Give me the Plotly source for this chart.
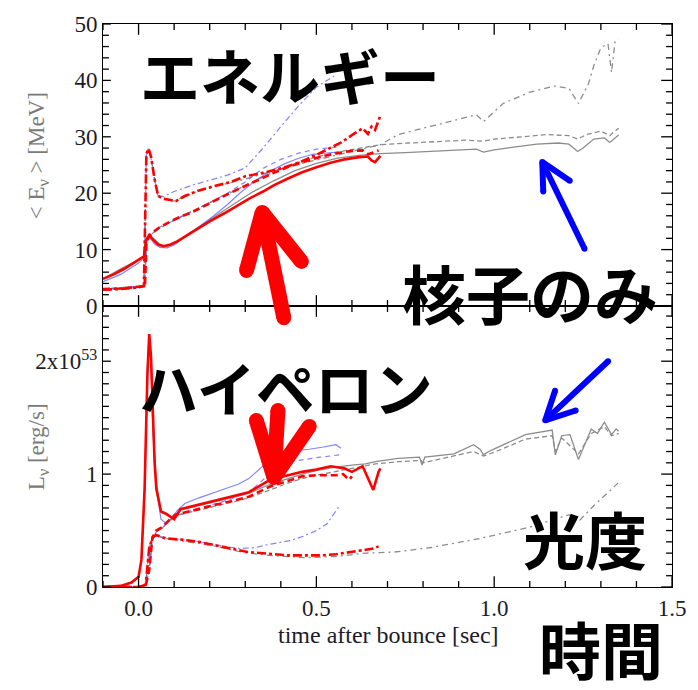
import plotly.graph_objects as go

# ---------------- mean neutrino energy <E_nu> [MeV] ----------------
# hyperon EOS (red)
t_red_e_solid = [-0.10, -0.07, -0.04, -0.02, 0.00, 0.015, 0.022, 0.03, 0.04, 0.055, 0.07, 0.09, 0.11, 0.14, 0.17,
                 0.20, 0.24, 0.28, 0.31, 0.35, 0.38, 0.42, 0.46, 0.50, 0.54, 0.58, 0.62, 0.645, 0.655, 0.665, 0.675, 0.68]
e_red_solid = [4.8, 5.6, 6.6, 7.4, 8.2, 8.8, 11.8, 12.6, 11.8, 10.9, 10.6, 10.9, 11.5, 12.7, 13.9,
               15.0, 16.4, 17.9, 19.0, 20.3, 21.4, 22.6, 23.7, 24.6, 25.4, 26.0, 26.4, 26.5, 25.8, 25.5, 26.3, 26.6]

t_red_e_dash = [-0.10, -0.05, 0.00, 0.018, 0.022, 0.03, 0.045, 0.06, 0.09, 0.12, 0.15, 0.19, 0.24, 0.29, 0.33,
                0.38, 0.43, 0.48, 0.52, 0.56, 0.60, 0.63, 0.645, 0.66, 0.675]
e_red_dash = [3.0, 3.1, 3.4, 3.6, 11.0, 12.4, 13.3, 14.0, 15.0, 15.9, 16.6, 17.9, 19.5, 21.0, 22.2,
              23.6, 24.9, 25.9, 26.6, 27.1, 27.5, 27.6, 26.9, 27.2, 27.6]

t_red_e_dd = [-0.10, -0.05, 0.00, 0.015, 0.022, 0.028, 0.035, 0.045, 0.055, 0.07, 0.09, 0.105, 0.13, 0.17, 0.21,
              0.26, 0.30, 0.35, 0.40, 0.45, 0.50, 0.54, 0.57, 0.60, 0.63, 0.645, 0.655, 0.665, 0.68]
e_red_dd = [2.9, 3.0, 3.3, 3.5, 27.0, 27.9, 26.5, 22.5, 19.5, 19.0, 18.8, 18.6, 19.5, 20.5, 21.2,
            22.0, 23.0, 23.6, 24.4, 25.4, 26.8, 28.0, 29.0, 30.3, 31.5, 30.5, 31.8, 31.2, 33.8]

# third model (blue)
t_blue_e_solid = [-0.10, -0.05, 0.00, 0.015, 0.022, 0.03, 0.045, 0.06, 0.08, 0.10, 0.13, 0.17, 0.21, 0.25, 0.29,
                  0.33, 0.37, 0.41, 0.45, 0.49, 0.53, 0.56]
e_blue_solid = [4.3, 5.6, 7.6, 8.5, 11.5, 12.3, 11.0, 10.4, 10.3, 10.8, 12.2, 14.0, 15.9, 18.0, 20.3,
                22.3, 23.9, 25.2, 26.2, 26.9, 27.2, 27.3]

t_blue_e_dash = [-0.10, 0.00, 0.018, 0.022, 0.03, 0.06, 0.10, 0.15, 0.20, 0.25, 0.30, 0.35, 0.40, 0.45, 0.50,
                 0.53, 0.56]
e_blue_dash = [3.0, 3.4, 3.6, 11.2, 12.3, 13.8, 15.2, 16.7, 18.3, 20.0, 22.0, 24.4, 26.0, 27.1, 27.8,
               28.0, 28.2]

t_blue_e_dd = [-0.10, 0.00, 0.015, 0.022, 0.028, 0.035, 0.045, 0.055, 0.07, 0.10, 0.15, 0.20, 0.25, 0.30, 0.35,
               0.40, 0.45, 0.50, 0.53, 0.55]
e_blue_dd = [2.9, 3.3, 3.5, 26.8, 27.6, 26.2, 22.3, 19.6, 19.4, 20.3, 21.4, 22.3, 23.2, 24.5, 28.0,
             31.8, 35.5, 38.8, 40.0, 40.8]

# nucleon-only EOS (gray)
t_gray_e_solid = [-0.10, -0.05, 0.00, 0.015, 0.022, 0.03, 0.045, 0.06, 0.08, 0.10, 0.14, 0.20, 0.26, 0.32, 0.38,
                  0.44, 0.50, 0.56, 0.62, 0.68, 0.75, 0.82, 0.90, 0.95, 0.97, 1.00, 1.06, 1.12, 1.18, 1.21,
                  1.235, 1.25, 1.28, 1.31, 1.325, 1.335, 1.35]
e_gray_solid = [4.8, 6.6, 8.2, 8.8, 11.8, 12.6, 11.8, 10.9, 10.6, 11.0, 12.8, 15.3, 17.8, 20.2, 22.2,
                24.0, 25.3, 26.2, 26.7, 27.0, 27.2, 27.4, 27.7, 27.8, 27.3, 27.7, 28.2, 28.7, 28.9, 28.7,
                27.4, 28.0, 29.6, 29.8, 29.0, 29.5, 30.3]

t_gray_e_dash = [-0.10, 0.00, 0.018, 0.022, 0.03, 0.06, 0.10, 0.15, 0.20, 0.26, 0.32, 0.38, 0.44, 0.50, 0.56,
                 0.62, 0.68, 0.76, 0.84, 0.92, 0.97, 1.00, 1.08, 1.15, 1.21, 1.235, 1.26, 1.30, 1.325, 1.335, 1.35]
e_gray_dash = [3.0, 3.4, 3.6, 11.0, 12.4, 14.0, 15.3, 16.8, 18.3, 20.1, 21.9, 23.8, 25.3, 26.4, 27.3,
               28.0, 28.6, 28.9, 29.2, 29.4, 29.2, 29.6, 30.0, 30.4, 30.2, 29.6, 30.4, 31.0, 30.2, 30.8, 31.5]

t_gray_e_dd = [-0.10, 0.00, 0.015, 0.022, 0.028, 0.035, 0.045, 0.055, 0.07, 0.10, 0.16, 0.22, 0.30, 0.38, 0.46,
               0.54, 0.62, 0.68, 0.73, 0.82, 0.90, 0.95, 0.97, 1.025, 1.10, 1.17, 1.21, 1.237, 1.265, 1.28,
               1.30, 1.32, 1.33, 1.34, 1.35]
e_gray_dd = [2.9, 3.3, 3.5, 27.0, 27.9, 26.5, 22.5, 19.5, 19.0, 18.6, 20.2, 21.3, 22.5, 24.0, 25.3,
             26.5, 27.6, 28.6, 30.4, 31.8, 33.0, 33.9, 32.7, 35.9, 37.9, 39.0, 38.6, 35.9, 39.4, 42.6,
             45.8, 46.5, 41.4, 47.0, 47.2]

# ---------------- neutrino luminosity L_nu [1e53 erg/s] ----------------
t_red_l_solid = [-0.10, -0.05, -0.02, 0.00, 0.008, 0.017, 0.025, 0.03, 0.035, 0.04, 0.045, 0.05, 0.063, 0.077,
                 0.10, 0.118, 0.17, 0.22, 0.26, 0.31, 0.37, 0.42, 0.46, 0.50, 0.54, 0.58, 0.60, 0.63, 0.645,
                 0.66, 0.675, 0.68]
l_red_solid = [0.0, 0.01, 0.04, 0.09, 0.24, 0.87, 1.90, 2.24, 2.04, 1.46, 1.11, 0.87, 0.67, 0.65,
               0.60, 0.69, 0.73, 0.77, 0.80, 0.84, 0.95, 0.99, 1.02, 1.04, 1.07, 1.05, 1.02, 1.07, 0.96,
               0.86, 1.02, 1.05]

t_red_l_dash = [-0.10, 0.00, 0.02, 0.03, 0.039, 0.05, 0.066, 0.085, 0.104, 0.14, 0.17, 0.22, 0.26, 0.31, 0.37,
                0.42, 0.46, 0.50, 0.555, 0.575, 0.592, 0.60]
l_red_dash = [0.0, 0.0, 0.01, 0.15, 0.44, 0.50, 0.53, 0.59, 0.64, 0.67, 0.69, 0.73, 0.76, 0.80, 0.89,
              0.94, 0.98, 0.99, 0.99, 1.00, 0.95, 0.98]

t_red_l_dd = [-0.10, 0.00, 0.02, 0.03, 0.04, 0.049, 0.077, 0.12, 0.169, 0.22, 0.26, 0.307, 0.37, 0.42, 0.463,
              0.51, 0.555, 0.60, 0.63, 0.66, 0.675]
l_red_dd = [0.0, 0.0, 0.02, 0.35, 0.44, 0.46, 0.43, 0.42, 0.40, 0.37, 0.34, 0.31, 0.29, 0.28, 0.28,
            0.28, 0.29, 0.31, 0.32, 0.34, 0.36]

t_blue_l_solid = [-0.10, -0.05, -0.02, 0.00, 0.008, 0.017, 0.025, 0.03, 0.035, 0.04, 0.05, 0.063, 0.075, 0.09,
                  0.11, 0.13, 0.17, 0.21, 0.243, 0.28, 0.31, 0.353, 0.39, 0.417, 0.45, 0.48, 0.52, 0.555, 0.569]
l_blue_solid = [0.0, 0.01, 0.04, 0.09, 0.24, 0.87, 1.85, 2.18, 1.98, 1.40, 0.88, 0.60, 0.57, 0.60,
                0.68, 0.74, 0.79, 0.83, 0.87, 0.91, 0.96, 1.08, 1.14, 1.20, 1.21, 1.22, 1.24, 1.26, 1.23]

t_blue_l_dash = [-0.10, 0.00, 0.02, 0.03, 0.039, 0.05, 0.066, 0.085, 0.104, 0.14, 0.17, 0.22, 0.26, 0.31, 0.353,
                 0.398, 0.426, 0.463, 0.51, 0.565]
l_blue_dash = [0.0, 0.0, 0.01, 0.15, 0.42, 0.49, 0.52, 0.58, 0.63, 0.67, 0.70, 0.74, 0.78, 0.84, 0.96,
               1.08, 1.11, 1.13, 1.15, 1.17]

t_blue_l_dd = [-0.10, 0.00, 0.02, 0.03, 0.04, 0.049, 0.08, 0.13, 0.19, 0.24, 0.288, 0.33, 0.37, 0.426, 0.463,
               0.50, 0.53, 0.565]
l_blue_dd = [0.0, 0.0, 0.02, 0.35, 0.43, 0.45, 0.43, 0.42, 0.39, 0.36, 0.34, 0.35, 0.38, 0.41, 0.45,
             0.50, 0.56, 0.72]

t_gray_l_solid = [-0.10, -0.05, -0.02, 0.00, 0.008, 0.017, 0.025, 0.03, 0.035, 0.04, 0.05, 0.063, 0.077, 0.10,
                  0.118, 0.17, 0.22, 0.26, 0.31, 0.37, 0.42, 0.46, 0.50, 0.55, 0.60, 0.638, 0.666, 0.73, 0.79,
                  0.797, 0.805, 0.887, 0.942, 0.96, 0.97, 0.985, 1.005, 1.033, 1.088, 1.163, 1.172, 1.19, 1.213,
                  1.237, 1.273, 1.29, 1.31, 1.33, 1.343, 1.35]
l_gray_solid = [0.0, 0.01, 0.04, 0.09, 0.24, 0.87, 1.90, 2.22, 2.02, 1.45, 0.92, 0.66, 0.64, 0.60,
                0.68, 0.72, 0.76, 0.79, 0.83, 0.91, 0.96, 1.00, 1.03, 1.06, 1.08, 1.09, 1.11, 1.14, 1.15,
                1.08, 1.15, 1.18, 1.26, 1.22, 1.17, 1.20, 1.23, 1.27, 1.35, 1.39, 1.17, 1.34, 1.35,
                1.13, 1.40, 1.36, 1.46, 1.35, 1.40, 1.38]

t_gray_l_dash = [-0.10, 0.00, 0.02, 0.03, 0.039, 0.05, 0.066, 0.085, 0.104, 0.14, 0.17, 0.22, 0.26, 0.31, 0.37,
                 0.42, 0.46, 0.50, 0.55, 0.60, 0.666, 0.73, 0.795, 0.80, 0.887, 0.942, 0.97, 1.005, 1.088, 1.163,
                 1.172, 1.19, 1.237, 1.273, 1.31, 1.33, 1.35]
l_gray_dash = [0.0, 0.0, 0.01, 0.15, 0.43, 0.49, 0.52, 0.58, 0.63, 0.66, 0.68, 0.72, 0.75, 0.79, 0.86,
               0.92, 0.96, 0.99, 1.02, 1.05, 1.09, 1.11, 1.12, 1.10, 1.16, 1.20, 1.16, 1.20, 1.31, 1.34,
               1.20, 1.32, 1.18, 1.36, 1.42, 1.34, 1.36]

t_gray_l_dd = [-0.10, 0.00, 0.02, 0.03, 0.04, 0.049, 0.077, 0.12, 0.169, 0.22, 0.26, 0.307, 0.37, 0.463, 0.555,
               0.638, 0.72, 0.823, 0.96, 1.10, 1.21, 1.237, 1.28, 1.348]
l_gray_dd = [0.0, 0.0, 0.02, 0.35, 0.44, 0.46, 0.43, 0.41, 0.39, 0.36, 0.33, 0.30, 0.28, 0.26, 0.27,
             0.30, 0.31, 0.35, 0.43, 0.53, 0.64, 0.58, 0.72, 0.92]

# tick positions and labels
x_ticks = [round(-0.1 + 0.1 * i, 1) for i in range(17)]
x_major = [0.0, 0.5, 1.0, 1.5]
x_labels = {0.0: "0.0", 0.5: "0.5", 1.0: "1.0", 1.5: "1.5"}
e_ticks = list(range(0, 51, 2))
e_major = [0, 10, 20, 30, 40, 50]
e_labels = {0: "0", 10: "10", 20: "20", 30: "30", 40: "40", 50: "50"}
l_ticks = [round(0.1 * i, 1) for i in range(25)]
l_major = [0.0, 1.0, 2.0]
l_labels = {0.0: "0", 1.0: "1", 2.0: "2x10<sup>53</sup>"}

# ---------------- figure geometry (pixels) ----------------
W, H = 698, 690
PL, PR, PT, PB = 103, 682, 16, 587      # plot-area edges
PMID = 302                              # boundary between the two panels
L_TOP = (PB - PMID) / 114.5             # luminosity axis top (1e53 units)
PW, PH = PR - PL, PB - PT
X_RANGE = [-0.1, 1.5]
E_RANGE = [0, 50]
L_RANGE = [0, L_TOP]


def fx(px):
    return (px - PL) / PW


def fy(py):
    return (PB - py) / PH


split = fy(PMID)

RED = "#ff0000"
GRAY = "#8c8c8c"
BLUE = "rgba(90,90,255,0.75)"

styles = {
    "red": (RED, 2.6, {"solid": "solid", "dash": "7px,4px", "dd": "9px,3px,3px,3px"}),
    "blue": (BLUE, 1.2, {"solid": "solid", "dash": "5px,4px", "dd": "6px,3px,2px,3px"}),
    "gray": (GRAY, 1.3, {"solid": "solid", "dash": "5px,3px", "dd": "6px,4px,2px,4px"}),
}

energy = {
    "gray": [(t_gray_e_solid, e_gray_solid, "solid"), (t_gray_e_dash, e_gray_dash, "dash"),
             (t_gray_e_dd, e_gray_dd, "dd")],
    "blue": [(t_blue_e_solid, e_blue_solid, "solid"), (t_blue_e_dash, e_blue_dash, "dash"),
             (t_blue_e_dd, e_blue_dd, "dd")],
    "red": [(t_red_e_solid, e_red_solid, "solid"), (t_red_e_dash, e_red_dash, "dash"),
            (t_red_e_dd, e_red_dd, "dd")],
}
lum = {
    "gray": [(t_gray_l_solid, l_gray_solid, "solid"), (t_gray_l_dash, l_gray_dash, "dash"),
             (t_gray_l_dd, l_gray_dd, "dd")],
    "blue": [(t_blue_l_solid, l_blue_solid, "solid"), (t_blue_l_dash, l_blue_dash, "dash"),
             (t_blue_l_dd, l_blue_dd, "dd")],
    "red": [(t_red_l_solid, l_red_solid, "solid"), (t_red_l_dash, l_red_dash, "dash"),
            (t_red_l_dd, l_red_dd, "dd")],
}

fig = go.Figure()
for model in ["gray", "blue", "red"]:
    color, width, dashes = styles[model]
    for t, v, kind in energy[model]:
        fig.add_trace(go.Scatter(x=t, y=v, mode="lines", xaxis="x2", yaxis="y2", showlegend=False,
                                 hoverinfo="skip",
                                 line=dict(color=color, width=width, dash=dashes[kind])))
    for t, v, kind in lum[model]:
        fig.add_trace(go.Scatter(x=t, y=v, mode="lines", xaxis="x", yaxis="y", showlegend=False,
                                 hoverinfo="skip",
                                 line=dict(color=color, width=width, dash=dashes[kind])))


# frame tick marks as short line segments on each panel's own axes
def tick_trace(xa, ya, y_range, yticks, ymajor):
    x_unit = (X_RANGE[1] - X_RANGE[0]) / PW                 # data units per pixel along x
    y_unit = (y_range[1] - y_range[0]) / ((PB - PMID) if ya == "y" else (PMID - PT))
    xs, ys = [], []
    for v in x_ticks:
        n = (11 if v in x_major else 6) * y_unit
        xs += [v, v, None, v, v, None]
        ys += [y_range[0], y_range[0] + n, None, y_range[1], y_range[1] - n, None]
    for v in yticks:
        big = v in ymajor
        nl = (8 if big else 6) * x_unit
        nr = (11 if big else 6) * x_unit
        xs += [X_RANGE[0], X_RANGE[0] + nl, None, X_RANGE[1], X_RANGE[1] - nr, None]
        ys += [v, v, None, v, v, None]
    fig.add_trace(go.Scatter(x=xs, y=ys, mode="lines", xaxis=xa, yaxis=ya, showlegend=False,
                             hoverinfo="skip", line=dict(color="black", width=1.3)))


tick_trace("x", "y", L_RANGE, l_ticks, l_major)
tick_trace("x2", "y2", E_RANGE, e_ticks, e_major)

TICKFONT = dict(family="Liberation Serif", size=23, color="#1c1c28")

axcommon = dict(showgrid=False, zeroline=False, showline=True, linecolor="black", linewidth=1,
                mirror=True, ticks="", tickmode="array")

fig.update_layout(
    width=W, height=H,
    margin=dict(l=PL, r=W - PR, t=PT, b=H - PB),
    paper_bgcolor="white", plot_bgcolor="white",
    showlegend=False,
    xaxis=dict(**axcommon, anchor="y", domain=[0, 1], range=X_RANGE, tickfont=TICKFONT,
               tickvals=x_major, ticktext=[x_labels[v] for v in x_major]),
    xaxis2=dict(**axcommon, anchor="y2", domain=[0, 1], range=X_RANGE, showticklabels=False,
                tickvals=x_major),
    yaxis=dict(**axcommon, anchor="x", domain=[0, split], range=L_RANGE, tickfont=TICKFONT,
               tickvals=l_major, ticktext=[l_labels[v] for v in l_major]),
    yaxis2=dict(**axcommon, anchor="x2", domain=[split, 1], range=E_RANGE, tickfont=TICKFONT,
                tickvals=e_major, ticktext=[e_labels[v] for v in e_major]),
)

# axis titles
SERIF = "Liberation Serif"
fig.add_annotation(x=fx(394), y=fy(636), xref="paper", yref="paper", showarrow=False,
                   xanchor="center", yanchor="middle",
                   text="time after bounce [sec]", font=dict(family=SERIF, size=24, color="#1c1c28"))
fig.add_annotation(x=fx(37), y=fy(150), xref="paper", yref="paper", showarrow=False, textangle=-90,
                   xanchor="center", yanchor="middle",
                   text="&lt; E<sub>ν</sub> &gt; [MeV]", font=dict(family=SERIF, size=23, color="#7a7a7a"))
fig.add_annotation(x=fx(37), y=fy(445), xref="paper", yref="paper", showarrow=False, textangle=-90,
                   xanchor="center", yanchor="middle",
                   text="L<sub>ν</sub> [erg/s]", font=dict(family=SERIF, size=23, color="#7a7a7a"))

# Japanese captions
JP = "Noto Sans CJK JP"
captions = [("エネルギー", 293, 66, 60), ("核子のみ", 537, 287, 64), ("ハイペロン", 289, 384, 59),
            ("光度", 593, 537, 62), ("時間", 610, 649, 62)]
for txt, cx, cy, sz in captions:
    fig.add_annotation(x=fx(cx), y=fy(cy), xref="paper", yref="paper", showarrow=False,
                       xanchor="center", yanchor="middle", text=f"<b>{txt}</b>",
                       font=dict(family=JP, size=sz, color="black"))


# thick arrows built from segments with rounded ends
def seg(p0, p1, color, w):
    fig.add_shape(type="line", xref="paper", yref="paper", layer="above",
                  x0=fx(p0[0]), y0=fy(p0[1]), x1=fx(p1[0]), y1=fy(p1[1]),
                  line=dict(color=color, width=w))


def cap(p, color, w):
    r = w / 2
    fig.add_shape(type="circle", xref="paper", yref="paper", layer="above",
                  x0=fx(p[0] - r), x1=fx(p[0] + r), y0=fy(p[1] + r), y1=fy(p[1] - r),
                  fillcolor=color, line=dict(width=0))


def arrow(tail, tip, arm1, arm2, color, w):
    for a, b in [(tail, tip), (arm1, tip), (arm2, tip)]:
        seg(a, b, color, w)
    for p in [tail, tip, arm1, arm2]:
        cap(p, color, w)


arrow((287, 314), (265, 207), (249, 266), (305, 257), RED, 15)
arrow((281, 408), (277, 476), (259, 418), (313, 424), RED, 15)
arrow((593, 244), (550, 156), (551, 186), (578, 175), "#0000ff", 6)
arrow((617, 358), (553, 418), (563, 388), (584, 408), "#0000ff", 6)

fig.write_html("out.html")
